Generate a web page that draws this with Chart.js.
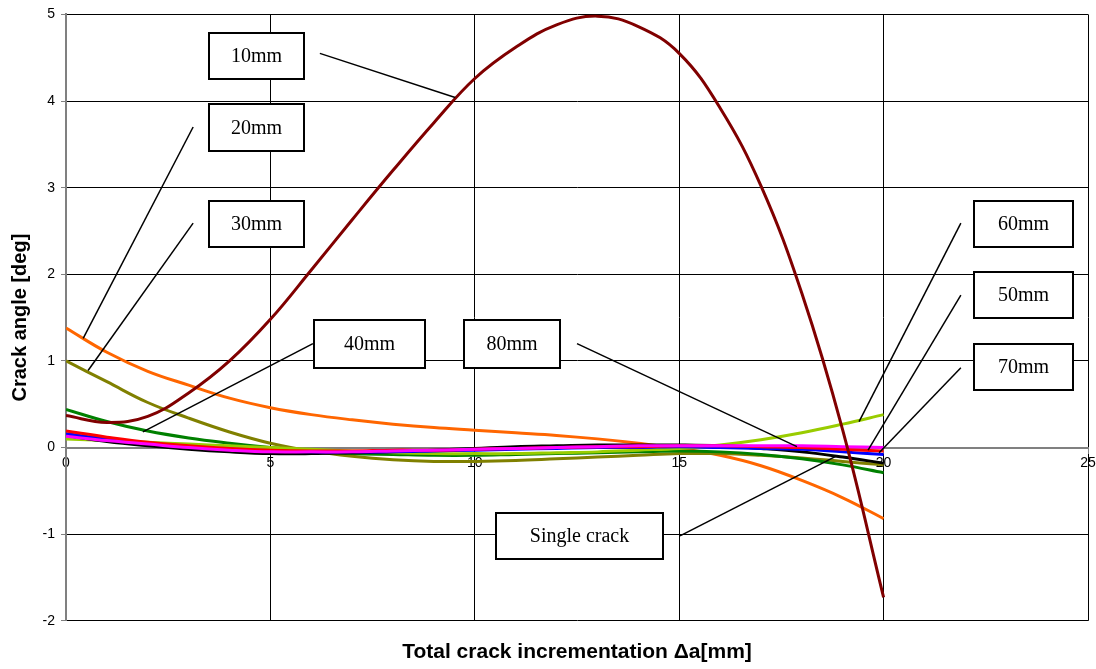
<!DOCTYPE html>
<html>
<head>
<meta charset="utf-8">
<script src="https://cdn.jsdelivr.net/npm/chart.js@4/dist/chart.umd.min.js"></script>
<style>
html, body { margin: 0; padding: 0; background: #fff; }
</style>
</head>
<body>
<canvas id="myChart" width="1096" height="669"></canvas>
<script>
// total crack increment (mm)
const xValues = [0, 1, 2, 3, 4, 5, 6, 7, 8, 9, 10, 11, 12, 13, 14, 15, 16, 17, 18, 19, 20];

// crack angle (deg) per crack distance
const mm10 = [0.37, 0.29, 0.36, 0.63, 1.0, 1.48, 2.05, 2.63, 3.2, 3.75, 4.26, 4.62, 4.88, 4.98, 4.86, 4.55, 3.92, 3.02, 1.78, 0.2, -1.73];
const mm20 = [1.38, 1.1, 0.88, 0.72, 0.57, 0.46, 0.38, 0.32, 0.27, 0.23, 0.2, 0.17, 0.14, 0.1, 0.05, -0.01, -0.09, -0.21, -0.38, -0.58, -0.82];
const mm30 = [1.0, 0.76, 0.52, 0.34, 0.18, 0.05, -0.04, -0.1, -0.14, -0.16, -0.16, -0.15, -0.13, -0.11, -0.09, -0.07, -0.07, -0.09, -0.12, -0.16, -0.2];
const mm40 = [0.44, 0.3, 0.19, 0.11, 0.05, 0.0, -0.04, -0.07, -0.08, -0.09, -0.09, -0.08, -0.07, -0.06, -0.05, -0.04, -0.05, -0.08, -0.13, -0.2, -0.29];
const mm50 = [0.16, 0.1, 0.05, 0.01, -0.02, -0.04, -0.05, -0.05, -0.05, -0.04, -0.03, -0.02, -0.01, 0.0, 0.0, 0.01, 0.0, -0.01, -0.02, -0.05, -0.08];
const mm60 = [0.1, 0.08, 0.06, 0.04, 0.02, 0.0, -0.02, -0.04, -0.06, -0.07, -0.07, -0.07, -0.06, -0.05, -0.03, -0.01, 0.03, 0.09, 0.17, 0.27, 0.38];
const mm70 = [0.19, 0.12, 0.06, 0.02, -0.01, -0.03, -0.04, -0.04, -0.03, -0.03, -0.02, -0.01, 0.0, 0.01, 0.01, 0.02, 0.02, 0.01, 0.0, -0.02, -0.04];
const mm80 = [0.13, 0.08, 0.04, 0.0, -0.03, -0.05, -0.05, -0.05, -0.04, -0.03, -0.02, -0.01, 0.0, 0.01, 0.02, 0.02, 0.02, 0.02, 0.02, 0.01, 0.0];
const singleCrack = [0.14, 0.07, 0.02, -0.02, -0.05, -0.07, -0.07, -0.06, -0.05, -0.03, -0.01, 0.01, 0.02, 0.03, 0.03, 0.03, 0.02, -0.01, -0.05, -0.11, -0.18];

const seriesNames = ['10mm', '20mm', '30mm', '40mm', '50mm', '60mm', '70mm', '80mm', 'Single crack'];
const seriesValues = [mm10, mm20, mm30, mm40, mm50, mm60, mm70, mm80, singleCrack];
const seriesColors = ['#800000', '#FF6600', '#808000', '#008000', '#0000FF', '#99CC00', '#FF0000', '#FF00FF', '#000000'];
const seriesOrder = [0, 8, 7, 6, 3, 5, 2, 1, 4];

// callout boxes, in data units: box [left, top, right, bottom], leader from -> to
const callouts = [
  { text: '10mm', box: [3.5, 4.79, 5.82, 4.25], from: [6.21, 4.55], to: [9.52, 4.04] },
  { text: '20mm', box: [3.5, 3.96, 5.82, 3.42], from: [3.11, 3.70], to: [0.42, 1.26] },
  { text: '30mm', box: [3.5, 2.85, 5.82, 2.32], from: [3.11, 2.59], to: [0.54, 0.89] },
  { text: '40mm', box: [6.07, 1.47, 8.78, 0.92], from: [6.04, 1.2], to: [1.88, 0.18] },
  { text: '80mm', box: [9.74, 1.47, 12.08, 0.92], from: [12.5, 1.2], to: [17.88, 0.01] },
  { text: '60mm', box: [22.21, 2.85, 24.63, 2.32], from: [21.89, 2.59], to: [19.4, 0.3] },
  { text: '50mm', box: [22.21, 2.03, 24.63, 1.49], from: [21.89, 1.76], to: [19.62, -0.03] },
  { text: '70mm', box: [22.21, 1.19, 24.63, 0.66], from: [21.89, 0.92], to: [19.89, -0.06] },
  { text: 'Single crack', box: [10.52, -0.75, 14.6, -1.29], from: [15.02, -1.02], to: [18.84, -0.1] }
];

const calloutPlugin = {
  id: 'callouts',
  afterDatasetsDraw(chart) {
    const ctx = chart.ctx;
    const xs = chart.scales.x, ys = chart.scales.y;
    ctx.save();
    callouts.forEach(c => {
      ctx.strokeStyle = '#000';
      ctx.lineWidth = 1.5;
      ctx.beginPath();
      ctx.moveTo(xs.getPixelForValue(c.from[0]), ys.getPixelForValue(c.from[1]));
      ctx.lineTo(xs.getPixelForValue(c.to[0]), ys.getPixelForValue(c.to[1]));
      ctx.stroke();

      const l = Math.round(xs.getPixelForValue(c.box[0]));
      const t = Math.round(ys.getPixelForValue(c.box[1]));
      const r = Math.round(xs.getPixelForValue(c.box[2]));
      const b = Math.round(ys.getPixelForValue(c.box[3]));
      ctx.fillStyle = '#fff';
      ctx.fillRect(l, t, r - l, b - t);
      ctx.lineWidth = 2;
      ctx.strokeRect(l, t, r - l, b - t);
      ctx.fillStyle = '#000';
      ctx.font = '20px "Liberation Serif"';
      ctx.textAlign = 'center';
      ctx.textBaseline = 'middle';
      ctx.fillText(c.text, (l + r) / 2, (t + b) / 2 + 1);
    });
    ctx.restore();
  }
};

const datasets = seriesNames.map((name, i) => ({
  label: name,
  data: xValues.map((x, j) => ({ x: x, y: seriesValues[i][j] })),
  borderColor: seriesColors[i],
  backgroundColor: seriesColors[i],
  borderWidth: 3,
  pointRadius: 0,
  fill: false,
  tension: 0.4,
  order: seriesOrder[i]
}));

const tickFont = { family: 'Liberation Sans', size: 14 };

new Chart(document.getElementById('myChart'), {
  type: 'line',
  data: { datasets: datasets },
  options: {
    responsive: false,
    animation: false,
    devicePixelRatio: 1,
    layout: { padding: { top: 14, right: 8, bottom: 1, left: 0 } },
    plugins: {
      legend: { display: false },
      tooltip: { enabled: false },
      title: {
        display: true,
        text: 'Total crack incrementation Δa[mm]',
        position: 'bottom',
        fullSize: false,
        color: '#000',
        font: { family: 'Liberation Sans', size: 21, weight: 'bold' },
        padding: { top: 19, bottom: 3 }
      }
    },
    scales: {
      x: {
        type: 'linear',
        position: { y: 0 },
        min: 0,
        max: 25,
        ticks: { stepSize: 5, color: '#000', font: tickFont, padding: 2, maxRotation: 0 },
        grid: { color: '#000', lineWidth: 1, tickLength: 5, tickColor: '#808080' },
        border: { color: '#808080', width: 2 },
        afterFit(scale) { scale.height = 0; scale.paddingRight = 0; }
      },
      y: {
        type: 'linear',
        min: -2,
        max: 5,
        ticks: { stepSize: 1, color: '#000', font: tickFont, padding: 6 },
        grid: { color: '#000', lineWidth: 1, tickLength: 5, tickColor: '#808080' },
        border: { color: '#808080', width: 2 },
        title: {
          display: true,
          text: 'Crack angle [deg]',
          color: '#000',
          font: { family: 'Liberation Sans', size: 20, weight: 'bold' },
          padding: { top: 8, bottom: 0 }
        },
        afterFit(scale) { scale.width = 66; }
      }
    }
  },
  plugins: [calloutPlugin]
});
</script>
</body>
</html>
